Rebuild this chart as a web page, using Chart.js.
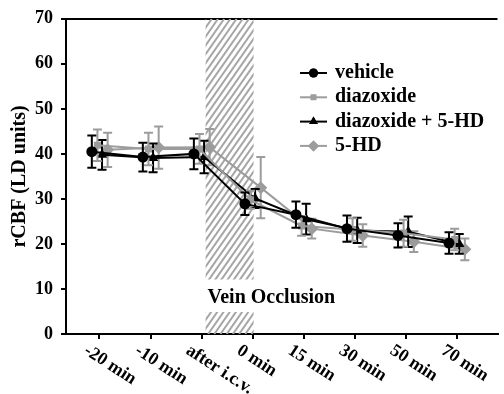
<!DOCTYPE html>
<html>
<head>
<meta charset="utf-8">
<script src="https://cdn.jsdelivr.net/npm/chart.js@4/dist/chart.umd.min.js"></script>
<style>
    html, body { margin: 0; padding: 0; background: #fff; }
</style>
</head>
<body>
<canvas id="myChart" width="504" height="394"></canvas>
<script>
// Time points on the x axis
var timeLabels = ['-20 min', '-10 min', 'after i.c.v.', '0 min', '15 min', '30 min', '50 min', '70 min'];

// rCBF means (LD units) and error bar sizes for each group
var vehicleY = [40.5, 39.3, 40.0, 28.9, 26.5, 23.4, 21.9, 20.2];
var vehicleErr = [3.6, 3.2, 3.4, 2.5, 2.9, 2.9, 2.7, 2.4];
var diazoxideY = [41.9, 41.1, 41.1, 29.8, 24.0, 23.2, 22.4, 21.0];
var diazoxideErr = [3.5, 3.6, 3.3, 2.0, 2.2, 2.5, 3.0, 2.4];
var diazoHdY = [39.8, 39.1, 39.3, 30.1, 25.5, 23.0, 22.7, 20.0];
var diazoHdErr = [3.3, 3.2, 3.6, 2.1, 3.4, 2.8, 3.4, 2.2];
var hdY = [40.9, 41.4, 41.5, 32.5, 23.4, 21.9, 20.5, 18.8];
var hdErr = [3.8, 4.7, 4.0, 6.8, 2.2, 2.5, 2.3, 2.4];

// small sideways shift per group so the error bars do not sit on top of each other
var groupShift = [-0.15, -0.04, 0.05, 0.16];

// vein occlusion band (x in time-point index units, y gap for the label)
var occlusionFrom = 2.08, occlusionTo = 3.02;
var occlusionGapLow = 4.9, occlusionGapHigh = 12.1;

var GRAY = '#9c9c9c';
var FONT = 'Liberation Serif';

function toPoints(values, shift) {
    return values.map((v, i) => ({ x: i + shift, y: v }));
}

var datasets = [
    { label: 'vehicle', data: toPoints(vehicleY, groupShift[0]), err: vehicleErr,
      borderColor: '#000', backgroundColor: '#000', pointStyle: 'circle', pointRadius: 5.5, borderWidth: 2 },
    { label: 'diazoxide', data: toPoints(diazoxideY, groupShift[1]), err: diazoxideErr,
      borderColor: GRAY, backgroundColor: GRAY, pointStyle: 'rect', pointRadius: 5, borderWidth: 2 },
    { label: 'diazoxide + 5-HD', data: toPoints(diazoHdY, groupShift[2]), err: diazoHdErr,
      borderColor: '#000', backgroundColor: '#000', pointStyle: 'triangle', pointRadius: 6, borderWidth: 2 },
    { label: '5-HD', data: toPoints(hdY, groupShift[3]), err: hdErr,
      borderColor: GRAY, backgroundColor: GRAY, pointStyle: 'rectRot', pointRadius: 6.5, borderWidth: 2 }
];
datasets.forEach(ds => { ds.pointBorderWidth = 0; ds.tension = 0; ds.fill = false; });

// hatched band for the occlusion period
const occlusionPlugin = {
    id: 'occlusion',
    beforeDatasetsDraw(chart) {
        const ctx = chart.ctx;
        const xs = chart.scales.x, ys = chart.scales.y;
        const x0 = xs.getPixelForValue(occlusionFrom), x1 = xs.getPixelForValue(occlusionTo);
        const top = ys.getPixelForValue(ys.max), bottom = ys.getPixelForValue(0);
        const gapTop = ys.getPixelForValue(occlusionGapHigh), gapBottom = ys.getPixelForValue(occlusionGapLow);
        ctx.save();
        ctx.beginPath();
        ctx.rect(x0, top, x1 - x0, gapTop - top);
        ctx.rect(x0, gapBottom, x1 - x0, bottom - gapBottom);
        ctx.clip();
        ctx.strokeStyle = '#a6a6a6';
        ctx.lineWidth = 2;
        const h = bottom - top;
        const run = h / Math.tan(55 * Math.PI / 180);
        for (let x = x0 - run; x < x1 + 6; x += 6.2) {
            ctx.beginPath();
            ctx.moveTo(x, bottom);
            ctx.lineTo(x + run, top);
            ctx.stroke();
        }
        ctx.restore();

        ctx.save();
        ctx.fillStyle = '#000';
        ctx.font = 'bold 20px "' + FONT + '"';
        ctx.textAlign = 'left';
        ctx.textBaseline = 'alphabetic';
        ctx.fillText('Vein Occlusion', x0 + 2, ys.getPixelForValue(6.8));
        ctx.restore();
    }
};

// vertical error bars with caps, drawn under each dataset
const errorBarPlugin = {
    id: 'errorBars',
    beforeDatasetDraw(chart, args) {
        const ds = chart.data.datasets[args.index];
        const meta = args.meta;
        const ys = chart.scales.y;
        const ctx = chart.ctx;
        ctx.save();
        ctx.strokeStyle = ds.borderColor;
        ctx.lineWidth = 2;
        meta.data.forEach((pt, i) => {
            const v = ds.data[i].y, e = ds.err[i];
            const yTop = ys.getPixelForValue(v + e), yBot = ys.getPixelForValue(v - e);
            ctx.beginPath();
            ctx.moveTo(pt.x, yTop);
            ctx.lineTo(pt.x, yBot);
            ctx.moveTo(pt.x - 4.5, yTop);
            ctx.lineTo(pt.x + 4.5, yTop);
            ctx.moveTo(pt.x - 4.5, yBot);
            ctx.lineTo(pt.x + 4.5, yBot);
            ctx.stroke();
        });
        ctx.restore();
    }
};

// rotated x labels and the legend inside the plot
const labelsPlugin = {
    id: 'labels',
    afterDraw(chart) {
        const ctx = chart.ctx;
        const xs = chart.scales.x;
        ctx.save();
        ctx.fillStyle = '#000';
        ctx.font = 'bold 18px "' + FONT + '"';
        timeLabels.forEach((lab, i) => {
            const px = xs.getPixelForValue(i);
            ctx.save();
            ctx.translate(px - 14, xs.top + 15);
            ctx.rotate(33 * Math.PI / 180);
            ctx.textAlign = 'left';
            ctx.textBaseline = 'middle';
            ctx.fillText(lab, 0, 0);
            ctx.restore();
        });
        ctx.restore();

        // legend
        const lx = 300, ly = 73, step = 24.3;
        chart.data.datasets.forEach((ds, i) => {
            const y = ly + i * step;
            ctx.save();
            ctx.strokeStyle = ds.borderColor;
            ctx.lineWidth = 2;
            ctx.beginPath();
            ctx.moveTo(lx, y);
            ctx.lineTo(lx + 27, y);
            ctx.stroke();
            ctx.fillStyle = ds.backgroundColor;
            Chart.helpers.drawPoint(ctx, { pointStyle: ds.pointStyle, radius: ds.pointRadius - 1, borderWidth: 0 }, lx + 13.5, y);
            ctx.fill();
            ctx.fillStyle = '#000';
            ctx.font = 'bold 20px "' + FONT + '"';
            ctx.textAlign = 'left';
            ctx.textBaseline = 'middle';
            ctx.fillText(ds.label, lx + 35, y);
            ctx.restore();
        });
    }
};

new Chart('myChart', {
    type: 'line',
    data: { datasets: datasets },
    options: {
        responsive: false,
        animation: false,
        events: [],
        devicePixelRatio: 1,
        layout: { padding: { top: 15, right: 1, left: 0, bottom: 0 } },
        plugins: { legend: { display: false }, tooltip: { enabled: false } },
        scales: {
            x: {
                type: 'linear',
                min: -0.656,
                max: 7.8,
                afterFit: s => { s.height = 60; },
                border: { color: '#000', width: 2 },
                grid: { drawOnChartArea: false, tickColor: '#000', tickLength: 5, lineWidth: 2 },
                ticks: { display: false, stepSize: 1, includeBounds: false }
            },
            y: {
                min: 0,
                max: 70,
                afterFit: s => { s.width = 66; },
                border: { color: '#000', width: 2 },
                grid: {
                    color: c => (c.tick && c.tick.value === 70 ? '#000' : 'rgba(0,0,0,0)'),
                    tickColor: '#000', tickLength: 5, lineWidth: 2
                },
                ticks: {
                    stepSize: 10, padding: 8, color: '#000',
                    font: { family: FONT, size: 18, weight: 'bold' }
                },
                title: {
                    display: true, text: 'rCBF (LD units)', color: '#000',
                    font: { family: FONT, size: 20, weight: 'bold' },
                    padding: { top: 8, bottom: 0 }
                }
            }
        }
    },
    plugins: [occlusionPlugin, errorBarPlugin, labelsPlugin]
});
</script>
</body>
</html>
